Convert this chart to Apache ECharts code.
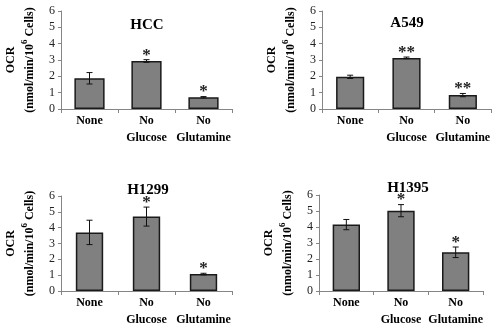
<!DOCTYPE html>
<html>
<head>
<meta charset="utf-8">
<script src="https://cdn.jsdelivr.net/npm/echarts@6/dist/echarts.min.js"></script>
<style>
  html, body { margin: 0; padding: 0; background: #fff; }
  #chart { width: 500px; height: 328px; }
</style>
</head>
<body>
<div id="chart"></div>
<script>
const categories = ['None', 'No\nGlucose', 'No\nGlutamine'];
const panelNames = ['HCC', 'A549', 'H1299', 'H1395'];

const hccValues = [1.88, 2.94, 0.72];
const hccErrors = [0.35, 0.08, 0.04];
const hccMarks = ['', '*', '*'];

const a549Values = [1.97, 3.13, 0.85];
const a549Errors = [0.1, 0.05, 0.1];
const a549Marks = ['', '**', '**'];

const h1299Values = [3.7, 4.7, 1.07];
const h1299Errors = [0.77, 0.6, 0.05];
const h1299Marks = ['', '*', '*'];

const h1395Values = [4.15, 5.02, 2.42];
const h1395Errors = [0.32, 0.38, 0.33];
const h1395Marks = ['', '*', '*'];

const yTicks = [0, 1, 2, 3, 4, 5, 6];

const panels = [
  { values: hccValues, errors: hccErrors, marks: hccMarks },
  { values: a549Values, errors: a549Errors, marks: a549Marks },
  { values: h1299Values, errors: h1299Errors, marks: h1299Marks },
  { values: h1395Values, errors: h1395Errors, marks: h1395Marks }
];

const FONT = '"Liberation Serif", "Times New Roman", serif';

const grids = [
  { left: 61, top: 11, width: 171, height: 98 },
  { left: 322, top: 11, width: 169, height: 98 },
  { left: 61, top: 196, width: 171, height: 98 },
  { left: 319, top: 195, width: 164, height: 99 }
];
const titlePos = [[142, 13], [402, 11], [143, 178], [403, 176]];
const barWidths = ['53%', '50%', '48%', '50%'];

const chart = echarts.init(document.getElementById('chart'), null, { renderer: 'canvas' });

const option = {
  animation: false,
  backgroundColor: '#fff',
  title: panelNames.map((name, i) => ({
    text: name,
    left: titlePos[i][0],
    top: titlePos[i][1],
    textAlign: 'center',
    textStyle: { fontFamily: FONT, fontWeight: 'bold', fontSize: 15, color: '#000' }
  })),
  grid: grids,
  xAxis: grids.map((g, i) => ({
    type: 'category',
    gridIndex: i,
    data: categories,
    axisLine: { lineStyle: { color: '#858585', width: 1 } },
    axisTick: { show: true, length: 4, lineStyle: { color: '#858585' } },
    axisLabel: {
      interval: 0,
      margin: 3,
      fontFamily: FONT,
      fontWeight: 'bold',
      fontSize: 12,
      lineHeight: 17,
      color: '#000'
    }
  })),
  yAxis: grids.map((g, i) => ({
    type: 'value',
    gridIndex: i,
    min: yTicks[0],
    max: yTicks[yTicks.length - 1],
    interval: 1,
    axisLine: { show: true, lineStyle: { color: '#858585', width: 1 } },
    axisTick: { show: true, length: 3, lineStyle: { color: '#858585' } },
    splitLine: { show: false },
    axisLabel: { fontFamily: FONT, fontSize: 12, color: '#222', margin: 6 },
    name: '{b|OCR}\n{b|(nmol/min/10}{sup|6}{b| Cells)}',
    nameLocation: 'middle',
    nameRotate: 90,
    nameGap: 22,
    nameTextStyle: {
      fontFamily: FONT,
      color: '#000',
      lineHeight: 19,
      rich: {
        b: { fontFamily: FONT, fontWeight: 'bold', fontSize: 12, color: '#000', lineHeight: 19 },
        sup: { fontFamily: FONT, fontWeight: 'bold', fontSize: 9, color: '#000', verticalAlign: 'top', lineHeight: 12 }
      }
    }
  })),
  series: []
};

panels.forEach((p, i) => {
  option.series.push({
    type: 'bar',
    xAxisIndex: i,
    yAxisIndex: i,
    data: p.values,
    barWidth: barWidths[i],
    itemStyle: { color: '#808080', borderColor: '#1a1a1a', borderWidth: 1.5 }
  });
  option.series.push({
    type: 'custom',
    xAxisIndex: i,
    yAxisIndex: i,
    z: 5,
    data: p.values.map((v, k) => [k, v, p.errors[k]]),
    encode: { x: 0, y: 1 },
    renderItem: (params, api) => {
      const k = api.value(0);
      const v = api.value(1);
      const e = api.value(2);
      const hi = api.coord([k, v + e]);
      const lo = api.coord([k, v - e]);
      const cap = 3;
      const stroke = { stroke: '#111', lineWidth: 1 };
      const children = [
        { type: 'line', shape: { x1: hi[0], y1: hi[1], x2: lo[0], y2: lo[1] }, style: stroke },
        { type: 'line', shape: { x1: hi[0] - cap, y1: hi[1], x2: hi[0] + cap, y2: hi[1] }, style: stroke },
        { type: 'line', shape: { x1: lo[0] - cap, y1: lo[1], x2: lo[0] + cap, y2: lo[1] }, style: stroke }
      ];
      const mark = p.marks[params.dataIndex];
      if (mark) {
        children.push({
          type: 'text',
          style: {
            text: mark,
            x: hi[0],
            y: hi[1] + 4,
            align: 'center',
            verticalAlign: 'bottom',
            font: 'bold 17px ' + FONT,
            fill: '#222'
          }
        });
      }
      return { type: 'group', children };
    }
  });
});

chart.setOption(option);
</script>
</body>
</html>
